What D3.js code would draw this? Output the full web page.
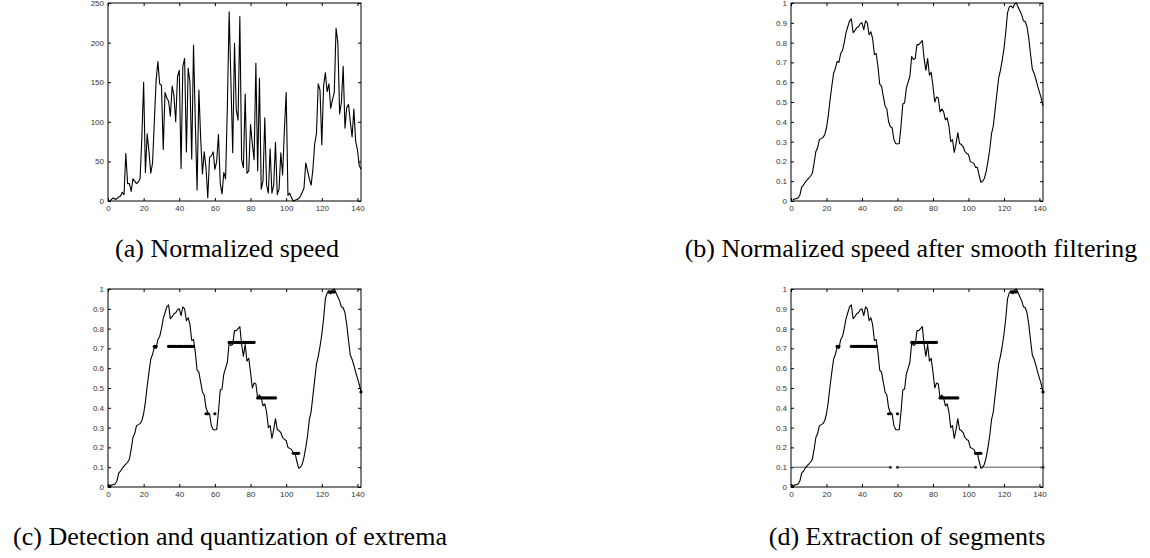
<!DOCTYPE html>
<html>
<head>
<meta charset="utf-8">
<script src="https://cdn.jsdelivr.net/npm/d3@7"></script>
<style>
  body { margin: 0; background: #fff; }
  .tick text { font-family: "Liberation Sans", Arial, sans-serif; font-size: 8px; fill: #333; }
  .caption { font-family: "Liberation Serif", "Times New Roman", serif; font-size: 26px; fill: #000; }
</style>
</head>
<body>
<svg width="1150" height="558"></svg>
<script>
"use strict";

// raw speed, samples 1..142
const speed = [0, 2, 4, 2, 3, 5, 6, 11, 8, 60, 22, 22, 12, 28, 25, 22, 24, 28, 80, 150,
  36, 85, 62, 35, 48, 100, 152, 176, 148, 146, 65, 137, 130, 126, 107, 145, 133, 100, 157, 165,
  41, 170, 180, 62, 168, 150, 53, 197, 100, 14, 140, 80, 34, 62, 42, 4, 55, 57, 62, 40,
  50, 84, 22, 9, 36, 28, 120, 239, 150, 61, 199, 115, 102, 233, 52, 42, 135, 35, 38, 97,
  72, 52, 174, 38, 155, 15, 25, 105, 20, 10, 66, 10, 20, 74, 8, 15, 61, 33, 90, 137,
  7, 10, 4, 0, 1, 2, 3, 6, 11, 16, 48, 38, 28, 20, 40, 72, 85, 148, 140, 71,
  145, 162, 138, 148, 117, 128, 137, 218, 200, 110, 125, 170, 92, 118, 122, 100, 81, 116, 75, 65,
  45, 40];

// smoothed, normalized speed, samples 1..142
const smooth = [0.005, 0.01, 0.012, 0.015, 0.03, 0.07, 0.08, 0.095, 0.105, 0.115,
  0.125, 0.14, 0.19, 0.25, 0.27, 0.31, 0.315, 0.32, 0.335, 0.37,
  0.43, 0.51, 0.58, 0.645, 0.67, 0.705, 0.70, 0.745, 0.76, 0.80,
  0.85, 0.88, 0.91, 0.92, 0.85, 0.86, 0.875, 0.88, 0.895, 0.90,
  0.865, 0.91, 0.90, 0.84, 0.855, 0.82, 0.74, 0.745, 0.68, 0.59,
  0.58, 0.53, 0.48, 0.465, 0.40, 0.375, 0.37, 0.31, 0.29, 0.288,
  0.29, 0.38, 0.49, 0.495, 0.57, 0.60, 0.63, 0.73, 0.715, 0.72,
  0.79, 0.79, 0.80, 0.81, 0.72, 0.66, 0.72, 0.635, 0.65, 0.58,
  0.50, 0.525, 0.52, 0.45, 0.465, 0.45, 0.41, 0.42, 0.38, 0.30,
  0.31, 0.245, 0.29, 0.345, 0.29, 0.285, 0.275, 0.25, 0.24, 0.235,
  0.20, 0.195, 0.19, 0.17, 0.17, 0.13, 0.095, 0.10, 0.115, 0.15,
  0.20, 0.26, 0.34, 0.38, 0.46, 0.54, 0.62, 0.66, 0.71, 0.77,
  0.85, 0.95, 0.98, 0.985, 0.975, 0.995, 1.0, 0.98, 0.96, 0.94,
  0.91, 0.905, 0.88, 0.82, 0.74, 0.665, 0.645, 0.615, 0.58, 0.55,
  0.52, 0.48];

// detected extrema: sample positions and quantized level of each group
const extremaX = [
  [1],
  [26, 27],
  [34, 35, 36, 37, 38, 39, 40, 41, 42, 43, 44, 45, 46, 47, 48],
  [55, 56, 60],
  [68, 69, 70, 71, 72, 73, 74, 75, 76, 77, 78, 79, 80, 81, 82],
  [84, 85, 86, 87, 88, 89, 90, 91, 92, 93, 94],
  [104, 105, 106, 107],
  [124, 125, 126, 127],
  [142]
];
const extremaLevel = [0.005, 0.71, 0.71, 0.37, 0.73, 0.45, 0.17, 0.985, 0.48];

// extracted segments (start, end) drawn at the threshold level
const segmentStart = [1, 60, 107];
const segmentEnd = [56, 104, 142];
const segmentMarks = [56, 60, 104, 142];
const segmentLevel = 0.1;

const xTicks = [0, 20, 40, 60, 80, 100, 120, 140];
const yTicksSpeed = [0, 50, 100, 150, 200, 250];
const yTicksNorm = [0, 0.1, 0.2, 0.3, 0.4, 0.5, 0.6, 0.7, 0.8, 0.9, 1];

const captions = [
  "(a) Normalized speed",
  "(b) Normalized speed after smooth filtering",
  "(c) Detection and quantization of extrema",
  "(d) Extraction of segments"
];

const svg = d3.select("svg");

function panel(left, top, right, bottom, yMax, yTicks) {
  const g = svg.append("g");
  const x = d3.scaleLinear().domain([0, 142]).range([left, right]);
  const y = d3.scaleLinear().domain([0, yMax]).range([bottom, top]);
  const fmt = d3.format("~g");

  // ticks point inward on all four sides
  g.append("g").attr("transform", `translate(0,${bottom})`)
    .call(d3.axisBottom(x).tickValues(xTicks).tickSize(-3).tickPadding(4).tickFormat(fmt));
  g.append("g").attr("transform", `translate(0,${top})`)
    .call(d3.axisTop(x).tickValues(xTicks).tickSize(-3).tickFormat(""));
  g.append("g").attr("transform", `translate(${left},0)`)
    .call(d3.axisLeft(y).tickValues(yTicks).tickSize(-3).tickPadding(4).tickFormat(fmt));
  g.append("g").attr("transform", `translate(${right},0)`)
    .call(d3.axisRight(y).tickValues(yTicks).tickSize(-3).tickFormat(""));
  g.selectAll(".domain").remove();
  g.selectAll(".tick line").attr("stroke", "#000");

  g.append("rect")
    .attr("x", left).attr("y", top)
    .attr("width", right - left).attr("height", bottom - top)
    .attr("fill", "none").attr("stroke", "#000").attr("stroke-width", 1);

  return { g, x, y };
}

function drawLine(p, values) {
  p.g.append("path")
    .datum(values)
    .attr("fill", "none")
    .attr("stroke", "#000")
    .attr("stroke-width", 1.1)
    .attr("stroke-linejoin", "round")
    .attr("d", d3.line().x((d, i) => p.x(i + 1)).y((d) => p.y(d)));
}

function drawExtrema(p) {
  extremaX.forEach((xs, k) => {
    const yy = p.y(extremaLevel[k]);
    // thin link only between neighbouring samples
    xs.forEach((d, i) => {
      if (i > 0 && d - xs[i - 1] === 1) {
        p.g.append("line")
          .attr("x1", p.x(xs[i - 1])).attr("x2", p.x(d))
          .attr("y1", yy).attr("y2", yy)
          .attr("stroke", "#000").attr("stroke-width", 1);
      }
    });
    p.g.selectAll(null)
      .data(xs)
      .enter()
      .append("circle")
      .attr("cx", (d) => p.x(d))
      .attr("cy", yy)
      .attr("r", 1.6)
      .attr("fill", "#000");
  });
}

// (a)
const pa = panel(108, 3, 361, 201, 250, yTicksSpeed);
drawLine(pa, speed);

// (b)
const pb = panel(791, 3, 1043, 201, 1, yTicksNorm);
drawLine(pb, smooth);

// (c)
const pc = panel(108, 289, 361, 487, 1, yTicksNorm);
drawLine(pc, smooth);
drawExtrema(pc);

// (d)
const pd = panel(791, 289, 1043, 487, 1, yTicksNorm);
segmentStart.forEach((s, i) => {
  pd.g.append("line")
    .attr("x1", pd.x(s)).attr("x2", pd.x(segmentEnd[i]))
    .attr("y1", pd.y(segmentLevel)).attr("y2", pd.y(segmentLevel))
    .attr("stroke", "#555").attr("stroke-width", 1);
});
pd.g.selectAll(null)
  .data(segmentMarks)
  .enter()
  .append("circle")
  .attr("cx", (d) => pd.x(d))
  .attr("cy", pd.y(segmentLevel))
  .attr("r", 1.5)
  .attr("fill", "#333");
drawLine(pd, smooth);
drawExtrema(pd);

// captions
const capPos = [[227, 257], [911, 257], [230, 545], [907, 545]];
captions.forEach((t, i) => {
  svg.append("text")
    .attr("class", "caption")
    .attr("x", capPos[i][0])
    .attr("y", capPos[i][1])
    .attr("text-anchor", "middle")
    .text(t);
});
</script>
</body>
</html>
